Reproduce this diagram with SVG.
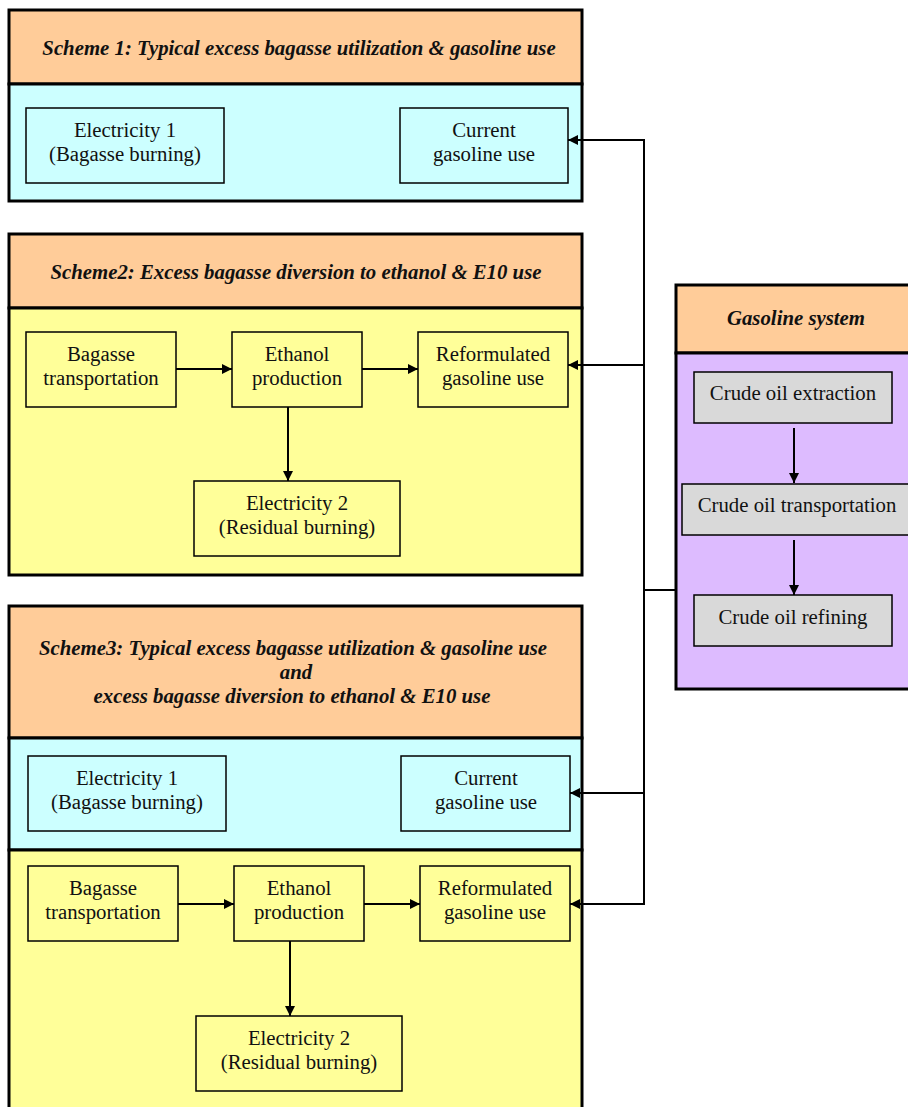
<svg xmlns="http://www.w3.org/2000/svg" width="908" height="1107" viewBox="0 0 908 1107">
<style>
.outer{fill:none;stroke:#000;stroke-width:3}
.hdr{fill:#FFCC99;stroke:#000;stroke-width:3}
.cyan{fill:#CCFFFF;stroke:#000;stroke-width:3}
.yel{fill:#FFFF99;stroke:#000;stroke-width:3}
.pur{fill:#DDBBFF;stroke:#000;stroke-width:3}
.bc{fill:#CCFFFF;stroke:#000;stroke-width:1.5}
.by{fill:#FFFF99;stroke:#000;stroke-width:1.5}
.bg{fill:#D9D9D9;stroke:#000;stroke-width:1.5}
.t{font-family:"Liberation Serif",serif;font-size:20.8px;fill:#111;text-anchor:middle}
.h{font-family:"Liberation Serif",serif;font-size:20.8px;font-weight:bold;font-style:italic;fill:#111;text-anchor:middle}
.c{fill:none;stroke:#000;stroke-width:2}
</style>
<defs>
<marker id="ah" viewBox="0 0 10 10" refX="10" refY="5" markerWidth="11" markerHeight="10" markerUnits="userSpaceOnUse" orient="auto">
<path d="M0,0 L10,5 L0,10 z" fill="#000"/>
</marker>
</defs>

<g id="scheme1">
<rect class="hdr" x="9" y="10" width="573" height="74"/>
<rect class="cyan" x="9" y="84" width="573" height="117"/>
<text class="h" x="299" y="55">Scheme 1: Typical excess bagasse utilization &amp; gasoline use</text>
</g>
<g id="s1-elec1">
<rect class="bc" x="26" y="108" width="198" height="75"/>
<text class="t" x="125" y="137">Electricity 1</text>
<text class="t" x="125" y="161">(Bagasse burning)</text>
</g>
<g id="s1-gas">
<rect class="bc" x="400" y="108" width="168" height="75"/>
<text class="t" x="484" y="137">Current</text>
<text class="t" x="484" y="161">gasoline use</text>
</g>

<g id="scheme2">
<rect class="hdr" x="9" y="234" width="573" height="74"/>
<rect class="yel" x="9" y="308" width="573" height="267"/>
<text class="h" x="296" y="279">Scheme2: Excess bagasse diversion to ethanol &amp; E10 use</text>
</g>
<g id="s2-bag">
<rect class="by" x="26" y="332" width="150" height="75"/>
<text class="t" x="101" y="361">Bagasse</text>
<text class="t" x="101" y="385">transportation</text>
</g>
<g id="s2-eth">
<rect class="by" x="232" y="332" width="130" height="75"/>
<text class="t" x="297" y="361">Ethanol</text>
<text class="t" x="297" y="385">production</text>
</g>
<g id="s2-ref">
<rect class="by" x="418" y="332" width="150" height="75"/>
<text class="t" x="493" y="361">Reformulated</text>
<text class="t" x="493" y="385">gasoline use</text>
</g>
<g id="s2-elec2">
<rect class="by" x="194" y="481" width="206" height="75"/>
<text class="t" x="297" y="510">Electricity 2</text>
<text class="t" x="297" y="534">(Residual burning)</text>
</g>

<g id="scheme3">
<rect class="hdr" x="9" y="606" width="573" height="132"/>
<rect class="cyan" x="9" y="738" width="573" height="112"/>
<rect class="yel" x="9" y="850" width="573" height="270"/>
<text class="h" x="293" y="655">Scheme3: Typical excess bagasse utilization &amp; gasoline use</text>
<text class="h" x="296" y="679">and</text>
<text class="h" x="292" y="703">excess bagasse diversion to ethanol &amp; E10 use</text>
</g>
<g id="s3-elec1">
<rect class="bc" x="28" y="756" width="198" height="75"/>
<text class="t" x="127" y="785">Electricity 1</text>
<text class="t" x="127" y="809">(Bagasse burning)</text>
</g>
<g id="s3-gas">
<rect class="bc" x="401" y="756" width="169" height="75"/>
<text class="t" x="486" y="785">Current</text>
<text class="t" x="486" y="809">gasoline use</text>
</g>
<g id="s3-bag">
<rect class="by" x="28" y="866" width="150" height="75"/>
<text class="t" x="103" y="895">Bagasse</text>
<text class="t" x="103" y="919">transportation</text>
</g>
<g id="s3-eth">
<rect class="by" x="234" y="866" width="130" height="75"/>
<text class="t" x="299" y="895">Ethanol</text>
<text class="t" x="299" y="919">production</text>
</g>
<g id="s3-ref">
<rect class="by" x="420" y="866" width="150" height="75"/>
<text class="t" x="495" y="895">Reformulated</text>
<text class="t" x="495" y="919">gasoline use</text>
</g>
<g id="s3-elec2">
<rect class="by" x="196" y="1016" width="206" height="75"/>
<text class="t" x="299" y="1045">Electricity 2</text>
<text class="t" x="299" y="1069">(Residual burning)</text>
</g>

<g id="gasoline-system">
<rect class="hdr" x="676" y="285" width="240" height="68"/>
<rect class="pur" x="676" y="353" width="240" height="336"/>
<text class="h" x="796" y="325">Gasoline system</text>
</g>
<g id="crude-extraction">
<rect class="bg" x="694" y="372" width="198" height="51"/>
<text class="t" x="793" y="400">Crude oil extraction</text>
</g>
<g id="crude-transport">
<rect class="bg" x="682" y="484" width="230" height="51"/>
<text class="t" x="797" y="512">Crude oil transportation</text>
</g>
<g id="crude-refining">
<rect class="bg" x="694" y="595" width="198" height="51"/>
<text class="t" x="793" y="624">Crude oil refining</text>
</g>

<g id="connectors">
<line class="c" x1="176" y1="369" x2="232" y2="369" marker-end="url(#ah)"/>
<line class="c" x1="362" y1="369" x2="418" y2="369" marker-end="url(#ah)"/>
<line class="c" x1="288" y1="407" x2="288" y2="481" marker-end="url(#ah)"/>
<line class="c" x1="178" y1="904" x2="234" y2="904" marker-end="url(#ah)"/>
<line class="c" x1="364" y1="904" x2="420" y2="904" marker-end="url(#ah)"/>
<line class="c" x1="290" y1="941" x2="290" y2="1016" marker-end="url(#ah)"/>
<line class="c" x1="794" y1="428" x2="794" y2="483" marker-end="url(#ah)"/>
<line class="c" x1="794" y1="540" x2="794" y2="595" marker-end="url(#ah)"/>
<path class="c" d="M676,590 H644"/>
<path class="c" d="M644,139 V905"/>
<line class="c" x1="644" y1="140" x2="568" y2="140" marker-end="url(#ah)"/>
<line class="c" x1="644" y1="365" x2="568" y2="365" marker-end="url(#ah)"/>
<line class="c" x1="644" y1="793" x2="570" y2="793" marker-end="url(#ah)"/>
<line class="c" x1="644" y1="904" x2="570" y2="904" marker-end="url(#ah)"/>
</g>
</svg>
